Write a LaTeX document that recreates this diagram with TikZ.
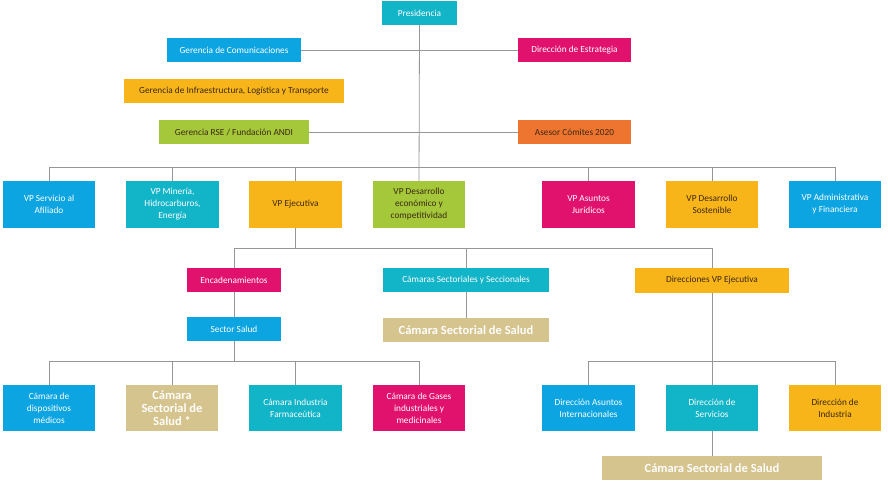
\documentclass[tikz,border=0pt]{standalone}
\usepackage{fontspec}
\setmainfont{Carlito}
\definecolor{ccyan}{RGB}{18,180,200}
\definecolor{cblue}{RGB}{13,165,225}
\definecolor{cmag}{RGB}{225,18,110}
\definecolor{cyel}{RGB}{248,181,26}
\definecolor{cgreen}{RGB}{165,200,58}
\definecolor{corange}{RGB}{238,117,48}
\definecolor{ctan}{RGB}{214,196,142}
\definecolor{cline}{RGB}{150,150,150}
\definecolor{ctext}{RGB}{60,40,20}
\begin{document}
\begin{tikzpicture}[x=1pt,y=-1pt,
  box/.style={draw=none,inner sep=1pt,align=center,anchor=center,
    font=\fontsize{9.3}{12}\selectfont},
  light/.style={box,text=white},
  dark/.style={box,text=ctext},
  tanbox/.style={box,fill=ctan,text=white!97!ctan,font=\fontsize{12.5}{13}\selectfont\bfseries},
  conn/.style={draw=cline,line width=0.8pt}]
\useasboundingbox (0,0) rectangle (888,487);
% top
\node[light,fill=ccyan,minimum width=75,minimum height=24] (pres) at (419.5,13) {Presidencia};
\node[light,fill=cblue,minimum width=134,minimum height=24] (gcom) at (234,50) {Gerencia de Comunicaciones};
\node[light,fill=cmag,minimum width=113,minimum height=24] (dest) at (574.5,50) {Dirección de Estrategia};
\node[dark,fill=cyel,minimum width=220,minimum height=24] (ginf) at (234,91) {Gerencia de Infraestructura, Logística y Transporte};
\node[dark,fill=cgreen,minimum width=150,minimum height=24] (grse) at (234,132) {Gerencia RSE / Fundación ANDI};
\node[dark,fill=corange,minimum width=113,minimum height=24] (ases) at (574.5,132) {Asesor Cómites 2020};
% VP row
\node[light,fill=cblue,minimum width=92,minimum height=47] (vpserv) at (49,204.5) {VP Servicio al\\Afiliado};
\node[light,fill=ccyan,minimum width=93,minimum height=47] (vpmin) at (172.5,204.5) {VP Minería,\\Hidrocarburos,\\Energía};
\node[dark,fill=cyel,minimum width=93,minimum height=47] (vpej) at (295.5,204.5) {VP Ejecutiva};
\node[dark,fill=cgreen,minimum width=92,minimum height=47] (vpdes) at (419,204.5) {VP Desarrollo\\económico y\\competitividad};
\node[light,fill=cmag,minimum width=93,minimum height=47] (vpjur) at (588.5,204.5) {VP Asuntos\\Jurídicos};
\node[dark,fill=cyel,minimum width=92,minimum height=47] (vpsos) at (712,204.5) {VP Desarrollo\\Sostenible};
\node[light,fill=cblue,minimum width=92,minimum height=47] (vpadm) at (835,204.5) {VP Administrativa\\y Financiera};
% level 3
\node[light,fill=cmag,minimum width=94,minimum height=24] (enc) at (234,280) {Encadenamientos};
\node[light,fill=ccyan,minimum width=166,minimum height=24] (cams) at (466,280) {Cámaras Sectoriales y Seccionales};
\node[dark,fill=cyel,minimum width=154,minimum height=25] (dvpe) at (712,280.5) {Direcciones VP Ejecutiva};
\node[light,fill=cblue,minimum width=94,minimum height=24] (ssal) at (234,329) {Sector Salud};
\node[tanbox,minimum width=166,minimum height=24] (csal1) at (466,330) {Cámara Sectorial de Salud};
% bottom row
\node[light,fill=cblue,minimum width=92,minimum height=46] (cdis) at (49,408) {Cámara de\\dispositivos\\médicos};
\node[tanbox,minimum width=92,minimum height=46] (csal2) at (172,408) {Cámara\\Sectorial de\\Salud *};
\node[light,fill=ccyan,minimum width=93,minimum height=46] (cfar) at (295.5,408) {Cámara Industria\\Farmaceútica};
\node[light,fill=cmag,minimum width=92,minimum height=46] (cgas) at (419,408) {Cámara de Gases\\industriales y\\medicinales};
\node[light,fill=cblue,minimum width=93,minimum height=46] (dai) at (588.5,408) {Dirección Asuntos\\Internacionales};
\node[light,fill=ccyan,minimum width=92,minimum height=46] (dserv) at (712,408) {Dirección de\\Servicios};
\node[dark,fill=cyel,minimum width=92,minimum height=46] (dind) at (835,408) {Dirección de\\Industria};
\node[tanbox,minimum width=220,minimum height=24] (csal3) at (712,468) {Cámara Sectorial de Salud};
% bars
\coordinate (bar1) at (0,167);
\coordinate (bar2) at (0,248);
\coordinate (bar3) at (0,361);
% connectors
\draw[conn] (pres.south) -- (vpdes.north);
\draw[conn] (gcom.east) -- (dest.west);
\draw[conn] (grse.east) -- (ases.west);
\draw[conn] (vpserv.north) -- (vpserv.north |- bar1) -- (vpadm.north |- bar1) -- (vpadm.north);
\draw[conn] (vpmin.north) -- (vpmin.north |- bar1);
\draw[conn] (vpej.north) -- (vpej.north |- bar1);
\draw[conn] (vpjur.north) -- (vpjur.north |- bar1);
\draw[conn] (vpsos.north) -- (vpsos.north |- bar1);
\draw[conn] (vpej.south) -- (vpej.south |- bar2);
\draw[conn] (enc.north) -- (enc.north |- bar2) -- (dvpe.north |- bar2) -- (dvpe.north);
\draw[conn] (cams.north) -- (cams.north |- bar2);
\draw[conn] (enc.south) -- (ssal.north);
\draw[conn] (cams.south) -- (csal1.north);
\draw[conn] (ssal.south) -- (ssal.south |- bar3);
\draw[conn] (cdis.north) -- (cdis.north |- bar3) -- (cgas.north |- bar3) -- (cgas.north);
\draw[conn] (csal2.north) -- (csal2.north |- bar3);
\draw[conn] (cfar.north) -- (cfar.north |- bar3);
\draw[conn] (dvpe.south) -- (dserv.north);
\draw[conn] (dai.north) -- (dai.north |- bar3) -- (dind.north |- bar3) -- (dind.north);
\draw[conn] (dserv.south) -- (csal3.north);
\end{tikzpicture}
\end{document}
